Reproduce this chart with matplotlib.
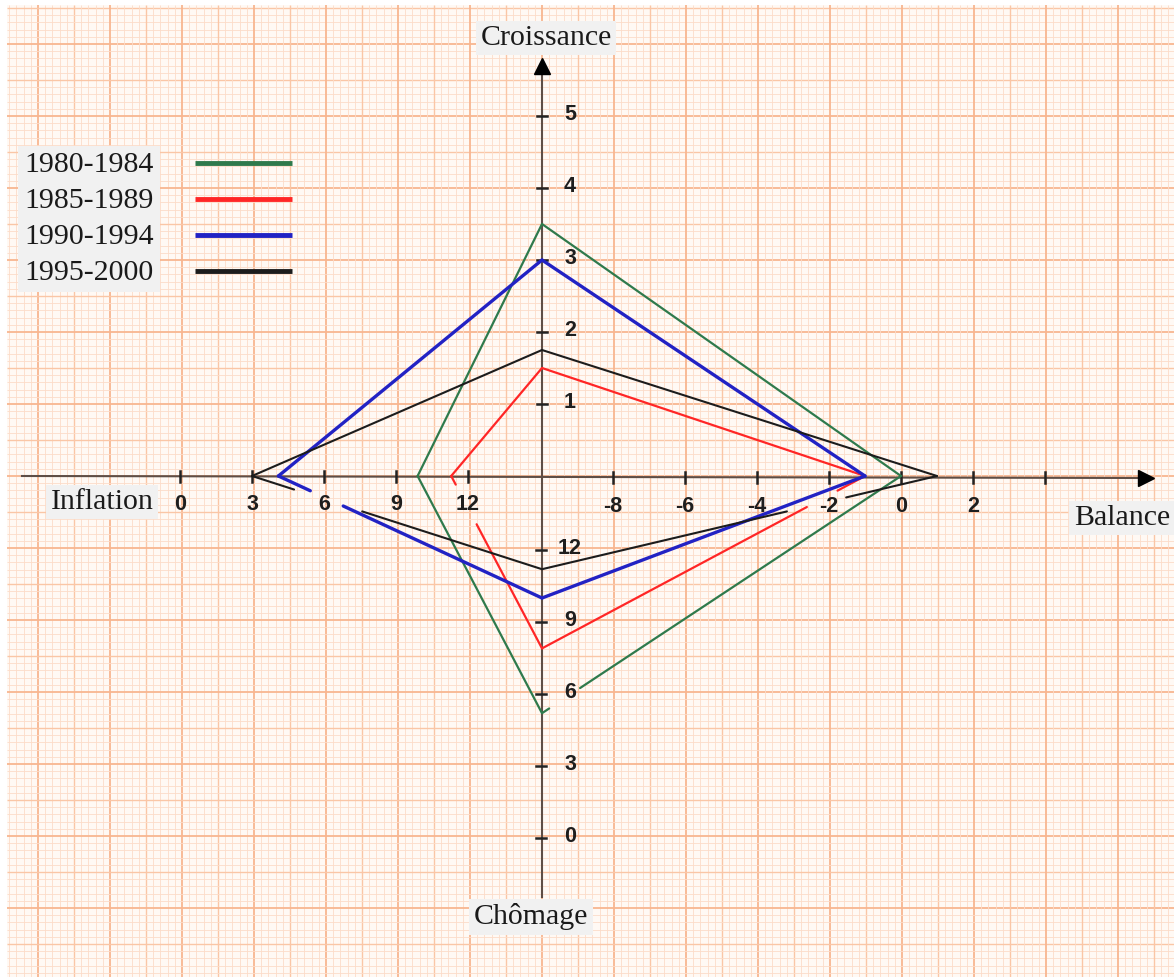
import matplotlib.pyplot as plt
import numpy as np

periodes = ['1980-1984', '1985-1989', '1990-1994', '1995-2000']
croissance = [3.5, 1.5, 3.0, 1.75]
balance = [0.0, -1.0, -1.0, 1.0]
chomage = [5.2, 7.9, 10.0, 11.2]
inflation = [9.9, 11.3, 4.1, 3.0]

couleurs = ['#2f7a4c', '#ff2626', '#2222c4', '#1c1c1c']
epaisseurs = [1.6, 1.6, 2.4, 1.5]

# graduations
ticks_croissance = [1, 2, 3, 4, 5]
ticks_inflation = [0, 3, 6, 9, 12]
ticks_balance = [-8, -6, -4, -2, 0, 2, 4]
labels_balance = ['-8', '-6', '-4', '-2', '0', '2', '']
ticks_chomage = [12, 9, 6, 3, 0]

# coupures du trait (autour des chiffres), par serie : arete -> (debut, fin)
coupures = [{1: (0.894, 0.98)},
            {1: (0.085, 0.18), 2: (0.72, 0.95)},
            {2: (0.754, 0.879)},
            {1: (0.23, 0.38), 2: (0.62, 0.855)}]

W, H = 1174, 977
CX, CY = 542, 476


# echelles des quatre demi-axes (en pixels de la feuille)
def x_inflation(v):
    return 180 + 24 * v


def x_balance(v):
    return 901 + 36 * v


def y_croissance(v):
    return CY - 72 * v


def y_chomage(v):
    return 838 - 24 * v


fig = plt.figure(figsize=(W / 100, H / 100), dpi=100)
ax = fig.add_axes([0, 0, 1, 1])
ax.set_xlim(0, W)
ax.set_ylim(H, 0)
ax.axis('off')

# papier millimetre
ax.add_patch(plt.Rectangle((7, 5), W - 7, H - 5, facecolor='#fff9f4', edgecolor='none', zorder=0))
pas = 7.2
for k in range(-80, 100):
    if k % 10 == 0:
        c, lw = '#f8b690', 1.3
    elif k % 5 == 0:
        c, lw = '#fac6a6', 1.0
    else:
        c, lw = '#fcdcc8', 0.6
    x = CX + k * pas
    if 7 <= x <= W:
        ax.vlines(x, 5, H, colors=c, lw=lw, zorder=1)
    y = CY + k * pas
    if 5 <= y <= H:
        ax.hlines(y, 7, W, colors=c, lw=lw, zorder=1)

# axes
axe = '#5e4e46'
ax.plot([22, 1145], [CY, CY + 2], color=axe, lw=1.5, zorder=3)
ax.plot([CX, CX], [62, 897], color=axe, lw=1.5, zorder=3)
ax.plot(CX, 66, marker='^', color='black', ms=11, zorder=4)
ax.plot(1146, CY + 2, marker='>', color='black', ms=11, zorder=4)

fnum = dict(family='Liberation Sans', fontweight='bold', fontsize=15.5, color='#1e1e1e', zorder=5)
for v in ticks_inflation:
    x = x_inflation(v)
    ax.plot([x, x], [CY - 5, CY + 6], color='#222222', lw=1.8, zorder=4)
    ax.text(x, CY + 28, str(v), ha='center', va='center', **fnum)
for v, lab in zip(ticks_balance, labels_balance):
    x = x_balance(v)
    ax.plot([x, x], [CY - 4, CY + 7], color='#222222', lw=1.8, zorder=4)
    ax.text(x, CY + 30, lab, ha='center', va='center', **fnum)
for v in ticks_croissance:
    y = y_croissance(v)
    ax.plot([CX - 5, CX + 5], [y, y], color='#222222', lw=1.8, zorder=4)
    ax.text(CX + 28, y - 1, str(v), ha='center', va='center', **fnum)
for v in ticks_chomage:
    y = y_chomage(v)
    ax.plot([CX - 6, CX + 4], [y, y], color='#222222', lw=1.8, zorder=4)
    ax.text(CX + 28, y - 2, str(v), ha='center', va='center', **fnum)

# carres magiques
for i in range(len(periodes)):
    pts = np.array([[CX, y_croissance(croissance[i])],
                    [x_balance(balance[i]), CY],
                    [CX, y_chomage(chomage[i])],
                    [x_inflation(inflation[i]), CY]])
    for k in range(4):
        p0, p1 = pts[k], pts[(k + 1) % 4]
        morceaux = [(0, 1)]
        if k in coupures[i]:
            a, b = coupures[i][k]
            morceaux = [(0, a), (b, 1)]
        for a, b in morceaux:
            q0 = p0 + a * (p1 - p0)
            q1 = p0 + b * (p1 - p0)
            ax.plot([q0[0], q1[0]], [q0[1], q1[1]], color=couleurs[i], lw=epaisseurs[i],
                    solid_capstyle='round', zorder=6)

# noms des axes
ftit = dict(family='Liberation Serif', fontsize=21.5, color='#1a1a1a', zorder=7,
            bbox=dict(boxstyle='square,pad=0.15', facecolor='#f1f1f1', edgecolor='none'))
ax.text(546, 38, 'Croissance', ha='center', va='center', **ftit)
ax.text(102, 502, 'Inflation', ha='center', va='center', **ftit)
ax.text(1122, 518, 'Balance', ha='center', va='center', **ftit)
ax.text(531, 917, 'Chômage', ha='center', va='center', **ftit)

# legende
ax.text(24, 219, '\n'.join(periodes), ha='left', va='center', linespacing=1.5,
        family='Liberation Serif', fontsize=21.5, color='#1a1a1a', zorder=7,
        bbox=dict(boxstyle='square,pad=0.2', facecolor='#f1f1f1', edgecolor='none'))
for i in range(len(periodes)):
    y = 163 + 36 * i
    ax.plot([195, 292], [y, y], color=couleurs[i], lw=3.5, solid_capstyle='butt', zorder=7)

fig.savefig('out.png', dpi=100)
